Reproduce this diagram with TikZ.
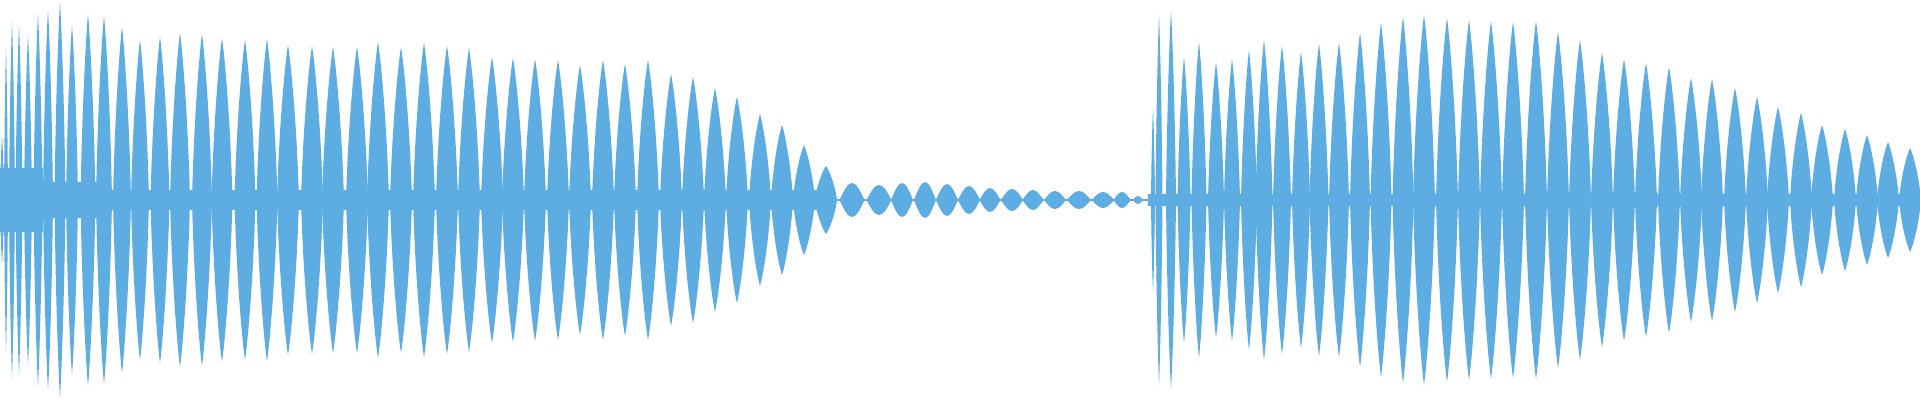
\documentclass[tikz,border=0pt]{standalone}
\usepackage{tikz}
\definecolor{wave}{RGB}{93, 172, 226}
% big lobes: pointed top
\newcommand{\lobe}[3]{\fill [wave] ({#1-#2/2}, 0) .. controls ({#1-0.4*#2}, {0.5*#3}) and ({#1-0.12*#2}, {0.9*#3}) .. (#1, #3) .. controls ({#1+0.12*#2}, {0.9*#3}) and ({#1+0.4*#2}, {0.5*#3}) .. ({#1+#2/2}, 0) .. controls ({#1+0.4*#2}, {-0.5*#3}) and ({#1+0.12*#2}, {-0.9*#3}) .. (#1, -#3) .. controls ({#1-0.12*#2}, {-0.9*#3}) and ({#1-0.4*#2}, {-0.5*#3}) .. cycle;}
% small lobes: round top
\newcommand{\blip}[3]{\fill [wave] ({#1-#2/2}, 0) sin (#1, #3) cos ({#1+#2/2}, 0) sin (#1, -#3) cos ({#1-#2/2}, 0);}

\begin{document}
\begin{tikzpicture}[x=1pt, y=1pt]
\useasboundingbox (0, -200) rectangle (1920, 200);
% bands
\fill [wave] (0, -32) rectangle (43, 32);
\fill [wave] (43, -18) rectangle (100, 18);
\fill [wave] (100, -10) rectangle (834, 10);
\fill [wave] (834, -0.7) rectangle (1148, 0.7);
\fill [wave] (1148, -6) rectangle (1920, 6);
% first burst
\foreach \c/\w/\a in {2/4/65, 6/4/152, 12/6/178, 19/7/175, 28/8/165, 38/9/186, 48/10/190, 60/11/198, 72/12/175, 88/15/186, 104/16/184, 122/18/173, 140/18/160, 160/19/163, 180/20/167, 202/20/166, 222/21/162, 245/21/160, 267/21/161, 288/22/155, 312/22/154, 333/22/153, 357/22/153, 378/22/158, 401/22/153, 424/22/157, 447/22/154, 469/22/152, 492/22/143, 513/22/142, 535/22/141, 558/22/140, 580/22/135, 603/22/140, 625/22/136, 648/22/140, 671/22/126, 693/22/123, 715/22/112, 737/22/103, 760/22/86, 782/22/75, 804/22/55, 826/22/34}
  {\lobe{\c}{\w}{\a}}
% quiet part
\foreach \c/\w/\a in {852/25/17, 879/25/15, 902/22/17, 925/22/18, 947/22/16, 969/22/14, 990/21/12, 1012/22/11, 1033/21/10, 1055/22/9, 1079/24/9, 1103/22/8, 1122/17/8, 1138/10/4}
  {\blip{\c}{\w}{\a}}
% second burst
\foreach \c/\w/\a in {1153/4/92, 1159/7/185, 1171/10/189, 1184/13/143, 1199/15/158, 1216/16/138, 1232/16/141, 1249/16/150, 1264/17/160, 1282/18/154, 1301/18/148, 1319/19/156, 1339/20/157, 1360/20/167, 1381/21/177, 1403/21/183, 1424/22/185, 1447/22/182, 1469/22/180, 1491/22/179, 1513/22/178, 1536/22/179, 1558/22/168, 1580/22/160, 1602/22/147, 1624/22/141, 1646/22/137, 1669/22/133, 1691/22/122, 1712/22/121, 1735/22/112, 1757/22/103, 1778/22/93, 1801/22/87, 1822/22/75, 1845/22/71, 1867/22/65, 1888/22/58, 1910/22/52}
  {\lobe{\c}{\w}{\a}}
\end{tikzpicture}
\end{document}
